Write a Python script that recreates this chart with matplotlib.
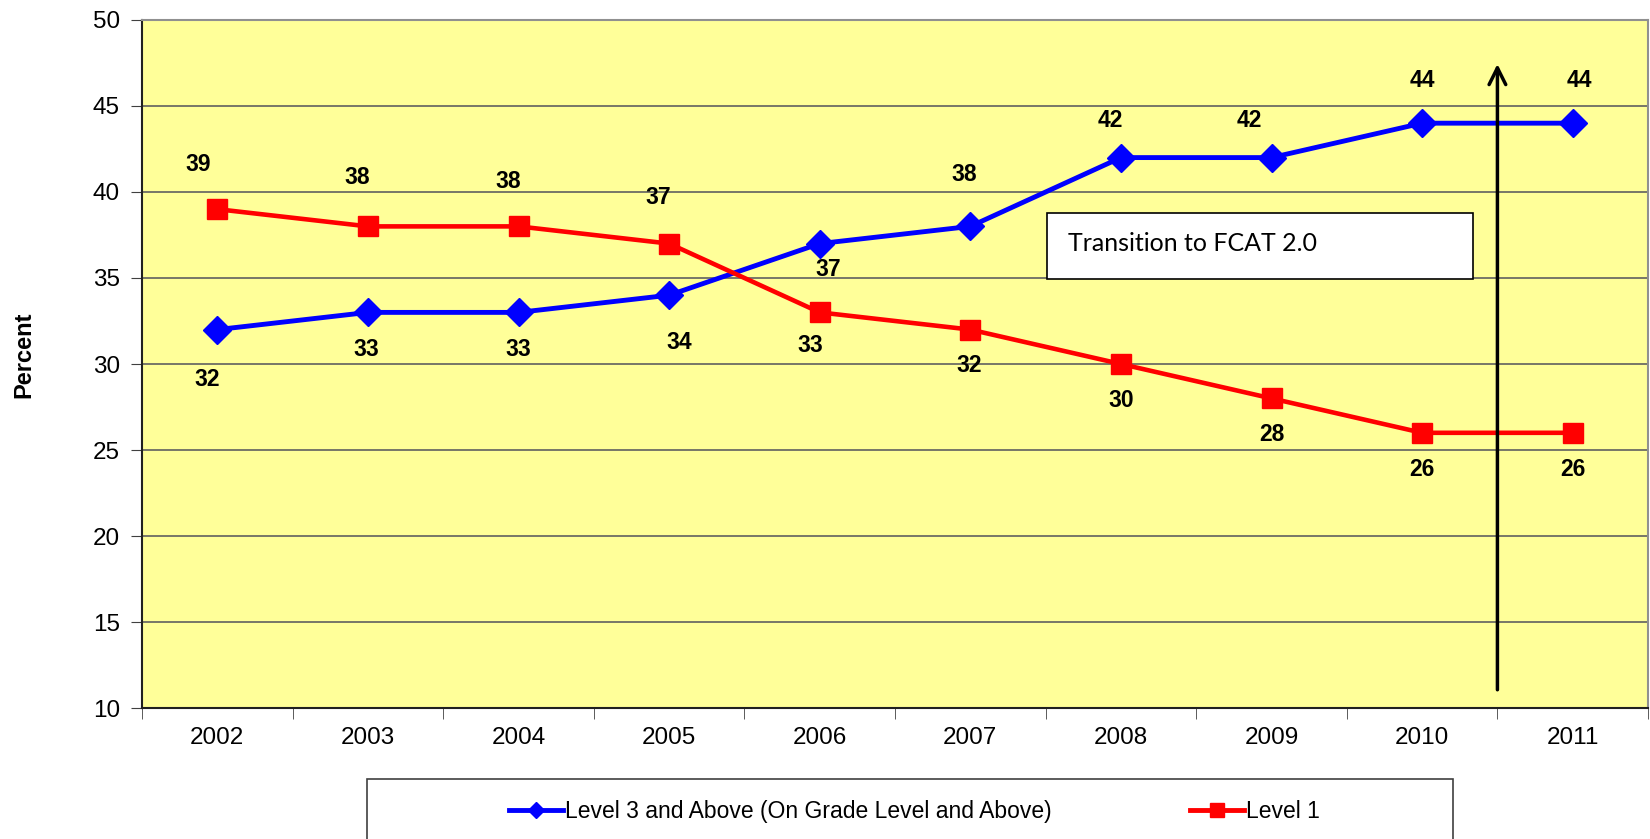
import matplotlib.pyplot as plt
from matplotlib.patches import Rectangle
from matplotlib.lines import Line2D

# data
years = ['2002', '2003', '2004', '2005', '2006', '2007', '2008', '2009', '2010', '2011']
level3 = [32, 33, 33, 34, 37, 38, 42, 42, 44, 44]
level1 = [39, 38, 38, 37, 33, 32, 30, 28, 26, 26]
level3_name = 'Level 3 and Above (On Grade Level and Above)'
level1_name = 'Level 1'
note = 'Transition to FCAT 2.0'

# label offsets in points (label centre relative to the marker)
off3 = [(-7.6, -36), (-1.5, -26.5), (0, -26.5), (7.6, -34), (6, -19),
        (-4.5, 37), (-7.6, 26.5), (-16, 26.5), (0, 31), (4.5, 31)]
off1 = [(-13.6, 32), (-7.6, 35), (-7.6, 32.6), (-7.6, 33.3), (-6.8, -23.5),
        (-0.8, -25.8), (0, -26.5), (0, -25.8), (0, -26.5), (0, -26.5)]

fig = plt.figure(figsize=(16.5, 8.39), dpi=100)
ax = fig.add_axes([0.0861, 0.1561, 0.9127, 0.8201])
ax.set_facecolor('#FFFF99')

x = list(range(len(years)))
l3, = ax.plot(x, level3, color='#0000FF', lw=3.5, marker='D', markersize=14, zorder=4)
l1, = ax.plot(x, level1, color='#FF0000', lw=3.3, marker='s', markersize=15, zorder=4)

for i in x:
    ax.annotate(str(level3[i]), (i, level3[i]), xytext=off3[i], textcoords='offset points',
                ha='center', va='center', fontsize=16.5, fontweight='bold', family='Liberation Sans')
    ax.annotate(str(level1[i]), (i, level1[i]), xytext=off1[i], textcoords='offset points',
                ha='center', va='center', fontsize=16.5, fontweight='bold', family='Liberation Sans')

ax.set_xlim(-0.5, len(years) - 0.5)
ax.set_ylim(10, 50)
ax.set_yticks(range(10, 51, 5))
ax.set_xticks(x)
ax.set_xticklabels(years)
ax.set_xticks([i - 0.5 for i in range(len(years) + 1)], minor=True)
ax.tick_params(axis='x', which='major', length=0, pad=14)
ax.tick_params(axis='x', which='minor', length=8, color='#404040')
ax.tick_params(axis='y', length=8, color='#404040', pad=8)
for lab in ax.get_xticklabels() + ax.get_yticklabels():
    lab.set_fontsize(17.5)
    lab.set_family('Liberation Sans')

for yv in range(15, 50, 5):
    ax.axhline(yv, color='#606060', lw=1.2, zorder=1)
ax.spines['left'].set_color('#202020')
ax.spines['bottom'].set_color('#202020')
ax.spines['top'].set_color('#909090')
ax.spines['right'].set_color('#909090')
for s in ax.spines.values():
    s.set_linewidth(1.5)

ax.set_ylabel('Percent', fontsize=17, fontweight='bold', family='Liberation Sans')
ax.yaxis.set_label_coords(-0.0707, 0.513)

# transition note and arrow
ax.add_patch(Rectangle((5.51, 34.95), 2.83, 3.83, facecolor='white', edgecolor='black', lw=1.2, zorder=5))
ax.text(5.65, 37.0, note, fontsize=18, family='Lato', va='center', ha='left', zorder=6)
ax.annotate('', xy=(8.5, 47.6), xytext=(8.5, 10.9),
            arrowprops=dict(arrowstyle='->', color='black', lw=2.5, mutation_scale=30), zorder=6)

# legend with box running off the bottom edge
fig.patches.append(Rectangle((0.2224, -0.05), 0.6582, 0.1215, transform=fig.transFigure,
                             facecolor='white', edgecolor='#404040', lw=1.2))
handles = [Line2D([], [], color='#0000FF', lw=3.5, marker='D', markersize=8),
           Line2D([], [], color='#FF0000', lw=3.5, marker='s', markersize=10)]
fig.legend(handles, [level3_name, level1_name], loc='center left', bbox_to_anchor=(0.296, 0.033),
           ncol=2, frameon=False, handlelength=2.36, handletextpad=0.1, columnspacing=6.0,
           prop={'family': 'Liberation Sans', 'size': 16.5})

fig.savefig('out.png', dpi=100)
